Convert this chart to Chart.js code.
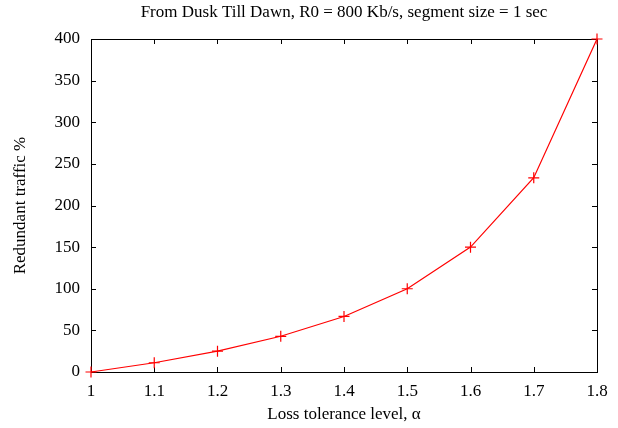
<!DOCTYPE html>
<html>
<head>
<meta charset="utf-8">
<script src="https://cdn.jsdelivr.net/npm/chart.js@4.4.0/dist/chart.umd.min.js"></script>
<style>
  html, body { margin: 0; padding: 0; background: #fff; }
  #wrap { width: 618px; height: 428px; }
</style>
</head>
<body>
<div id="wrap"><canvas id="myChart" width="618" height="428"></canvas></div>
<script>
Chart.defaults.font.family = '"Liberation Serif", "Times New Roman", serif';
Chart.defaults.color = '#000';

// data
var alphaValues = [1, 1.1, 1.2, 1.3, 1.4, 1.5, 1.6, 1.7, 1.8];
var redundantTraffic = [0, 11.1, 25, 42.9, 66.7, 100, 150, 233.3, 400];
var xTicks = [1, 1.1, 1.2, 1.3, 1.4, 1.5, 1.6, 1.7, 1.8];
var xTickLabels = ["1", "1.1", "1.2", "1.3", "1.4", "1.5", "1.6", "1.7", "1.8"];
var yTicks = [0, 50, 100, 150, 200, 250, 300, 350, 400];

var points = alphaValues.map(function (a, i) { return { x: a, y: redundantTraffic[i] }; });

// gnuplot style frame: box border with inward ticks on all sides
var frame = {
  id: 'frame',
  beforeDatasetsDraw: function (chart) {
    var c = chart.ctx, a = chart.chartArea, tl = 5;
    var xs = chart.scales.x, ys = chart.scales.y;
    c.save();
    c.strokeStyle = '#000';
    c.lineWidth = 1;
    c.beginPath();
    xs.ticks.forEach(function (t) {
      var px = Math.round(xs.getPixelForValue(t.value)) + 0.5;
      c.moveTo(px, a.bottom); c.lineTo(px, a.bottom - tl);
      c.moveTo(px, a.top); c.lineTo(px, a.top + tl);
    });
    ys.ticks.forEach(function (t) {
      var py = Math.round(ys.getPixelForValue(t.value)) + 0.5;
      c.moveTo(a.left, py); c.lineTo(a.left + tl, py);
      c.moveTo(a.right, py); c.lineTo(a.right - tl, py);
    });
    c.stroke();
    c.strokeRect(Math.round(a.left) + 0.5, Math.round(a.top) + 0.5,
      Math.round(a.right - a.left), Math.round(a.bottom - a.top));
    c.restore();
  }
};

var ctx = document.getElementById("myChart");
var myChart = new Chart(ctx, {
  type: 'line',
  data: {
    datasets: [{
      label: "Redundant traffic",
      data: points,
      borderColor: "#ff0000",
      backgroundColor: "#ff0000",
      borderWidth: 1.2,
      tension: 0,
      pointStyle: 'cross',
      pointRadius: 5.5,
      pointBorderWidth: 1.2,
      pointBorderColor: "#ff0000",
      clip: false
    }]
  },
  plugins: [frame],
  options: {
    responsive: false,
    animation: false,
    layout: { padding: { left: 0, right: 21, top: 0, bottom: 0 } },
    scales: {
      x: {
        type: 'linear',
        min: 1,
        max: 1.8,
        afterBuildTicks: function (s) { s.ticks = xTicks.map(function (v) { return { value: v }; }); },
        afterFit: function (s) { s.height = 56; },
        grid: { display: false, drawTicks: false },
        border: { display: false },
        ticks: {
          padding: 9,
          maxRotation: 0,
          autoSkip: false,
          font: { size: 17 },
          callback: function (v, i) { return xTickLabels[i]; }
        },
        title: {
          display: true,
          text: "Loss tolerance level, \u03b1",
          font: { size: 17 },
          padding: { top: 0, bottom: 3 }
        }
      },
      y: {
        min: 0,
        max: 400,
        afterBuildTicks: function (s) { s.ticks = yTicks.map(function (v) { return { value: v }; }); },
        afterFit: function (s) { s.width = 91; },
        grid: { display: false, drawTicks: false },
        border: { display: false },
        ticks: {
          padding: 11,
          autoSkip: false,
          font: { size: 17 }
        },
        title: {
          display: true,
          text: "Redundant traffic %",
          font: { size: 17 },
          padding: { top: 10, bottom: 0 }
        }
      }
    },
    plugins: {
      legend: { display: false },
      tooltip: { enabled: false },
      title: {
        display: true,
        fullSize: false,
        text: "From Dusk Till Dawn, R0 = 800 Kb/s, segment size = 1 sec",
        font: { size: 17, weight: 'normal' },
        padding: { top: 2, bottom: 16.6 }
      }
    }
  }
});
</script>
</body>
</html>
